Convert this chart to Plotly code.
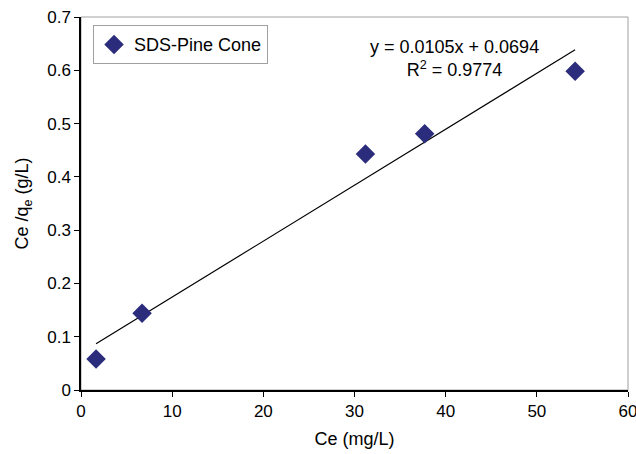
import plotly.graph_objects as go

ce = [1.65, 6.7, 31.2, 37.7, 54.2]
ce_qe = [0.058, 0.144, 0.443, 0.481, 0.598]
slope = 0.0105
intercept = 0.0694
series_name = "SDS-Pine Cone"
eq_text = "y = 0.0105x + 0.0694<br>R<sup>2</sup> = 0.9774"

fx = [min(ce), max(ce)]
fy = [slope * v + intercept for v in fx]

FONT = "Liberation Sans, Arial, sans-serif"

fig = go.Figure()
fig.add_trace(go.Scatter(x=fx, y=fy, mode="lines", line=dict(color="black", width=1.2),
                         showlegend=False, hoverinfo="skip"))
fig.add_trace(go.Scatter(x=ce, y=ce_qe, mode="markers", name=series_name,
                         marker=dict(symbol="diamond", size=15, color="#2b2d7c",
                                     line=dict(width=0))))

fig.add_shape(type="rect", xref="paper", yref="paper", x0=0, y0=0, x1=1, y1=1,
              line=dict(color="#a0a0a0", width=1), layer="below")

fig.add_annotation(x=0.682, y=0.952, xref="paper", yref="paper", text=eq_text,
                   showarrow=False, align="center", xanchor="center", yanchor="top",
                   font=dict(family=FONT, size=18, color="black"))

fig.update_layout(
    width=636, height=454,
    margin=dict(l=81, r=8, t=17, b=64),
    paper_bgcolor="white", plot_bgcolor="white",
    font=dict(family=FONT, size=17, color="black"),
    showlegend=True,
    legend=dict(x=0.022, y=0.978, xanchor="left", yanchor="top",
                bordercolor="#a0a0a0", borderwidth=1, bgcolor="white",
                font=dict(family=FONT, size=18), itemwidth=30,
                tracegroupgap=0),
    xaxis=dict(range=[0, 60], dtick=10, showgrid=False, zeroline=False,
               showline=True, linecolor="black", linewidth=1.5,
               ticks="outside", ticklen=5, tickcolor="black",
               ticklabeloverflow="allow", automargin=False,
               tickfont=dict(size=17),
               title=dict(text="Ce (mg/L)", standoff=12, font=dict(size=18))),
    yaxis=dict(range=[0, 0.7], dtick=0.1, showgrid=False, zeroline=False,
               showline=True, linecolor="black", linewidth=1.5,
               ticks="outside", ticklen=5, tickcolor="black", tickformat="~g",
               automargin=False,
               tickfont=dict(size=17),
               title=dict(text="Ce /q<sub>e</sub> (g/L)", standoff=14, font=dict(size=18))),
)

fig.write_html("out.html")
